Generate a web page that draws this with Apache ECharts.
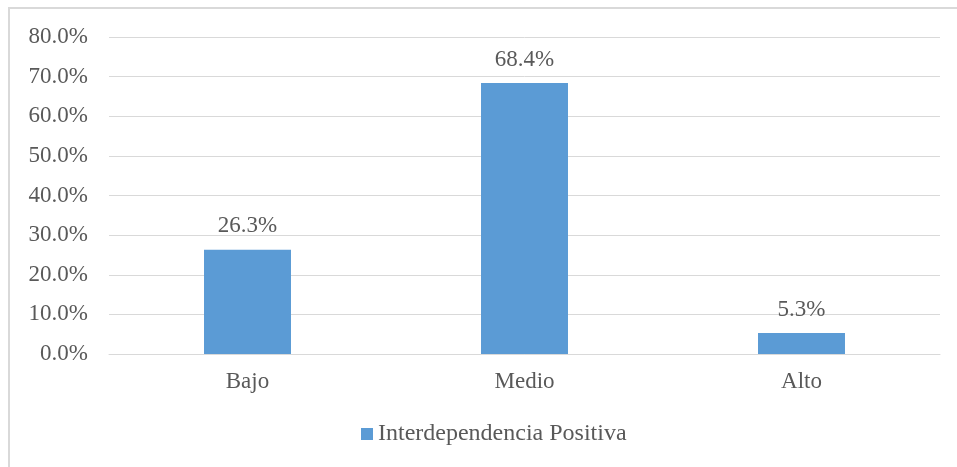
<!DOCTYPE html>
<html>
<head>
<meta charset="utf-8">
<script src="https://cdn.jsdelivr.net/npm/echarts@6/dist/echarts.min.js"></script>
<style>
html,body{margin:0;padding:0;background:#fff;}
#chart{width:957px;height:467px;}
</style>
</head>
<body>
<div id="chart"></div>
<script>
const categories = ['Bajo', 'Medio', 'Alto'];
const values = [26.3, 68.4, 5.3];
const seriesName = 'Interdependencia Positiva';
const yTicks = { min: 0, max: 80, interval: 10 };

const font = '"Liberation Serif", "Times New Roman", serif';
const textColor = '#595959';
const fs = 23;

const chart = echarts.init(document.getElementById('chart'), null, { renderer: 'canvas' });
chart.setOption({
  animation: false,
  backgroundColor: '#ffffff',
  graphic: [{
    type: 'rect',
    shape: { x: 9, y: 8, width: 1100, height: 600 },
    style: { fill: 'none', stroke: '#d9d9d9', lineWidth: 2 },
    silent: true, z: -1
  }],
  grid: { left: 109, right: 17, top: 37, bottom: 113, containLabel: false },
  legend: {
    left: 361, top: 422, padding: 0,
    itemWidth: 12, itemHeight: 12, itemGap: 10,
    icon: 'rect',
    textStyle: { fontFamily: font, fontSize: 24, color: textColor },
    data: [seriesName]
  },
  xAxis: {
    type: 'category',
    data: categories,
    axisLine: { show: true, lineStyle: { color: '#d9d9d9', width: 1 } },
    axisTick: { show: false },
    axisLabel: { fontFamily: font, fontSize: fs, color: textColor, margin: 16 }
  },
  yAxis: {
    type: 'value',
    min: yTicks.min, max: yTicks.max, interval: yTicks.interval,
    axisLine: { show: false },
    axisTick: { show: false },
    splitLine: { lineStyle: { color: '#d9d9d9', width: 1 } },
    axisLabel: {
      fontFamily: font, fontSize: fs, color: textColor, margin: 21,
      formatter: v => v.toFixed(1) + '%'
    }
  },
  series: [{
    name: seriesName,
    type: 'bar',
    data: values,
    barWidth: '31.4%',
    itemStyle: { color: '#5B9BD5' },
    label: {
      show: true, position: 'top', distance: 12,
      fontFamily: font, fontSize: fs, color: textColor,
      formatter: p => p.value.toFixed(1) + '%'
    }
  }]
});
</script>
</body>
</html>
